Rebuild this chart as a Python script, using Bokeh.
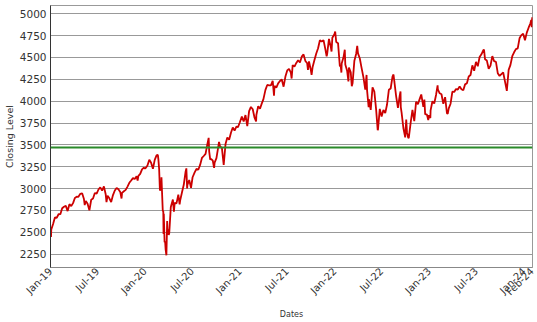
import math
import pandas as pd
from bokeh.plotting import figure
from bokeh.models import Range1d, FixedTicker, DatetimeTickFormatter, Span
from bokeh.embed import file_html
from bokeh.resources import INLINE

# ---- data (weekly closes) ----
d2019 = ["01-02","01-03","01-04","01-11","01-18","01-25","02-01","02-08","02-15","02-22",
         "03-01","03-08","03-15","03-22","03-29","04-05","04-12","04-18","04-26","05-03",
         "05-10","05-13","05-17","05-24","05-31","06-07","06-14","06-21","06-28","07-05",
         "07-12","07-19","07-26","08-02","08-05","08-09","08-16","08-23","08-30","09-06",
         "09-13","09-20","09-27","10-02","10-04","10-11","10-18","10-25","11-01","11-08",
         "11-15","11-22","11-29","12-03","12-06","12-13","12-20","12-27","12-31"]
c2019 = [2510,2448,2532,2596,2671,2665,2707,2708,2776,2793,
         2804,2743,2822,2801,2834,2893,2907,2905,2940,2946,
         2881,2812,2860,2826,2752,2873,2887,2950,2942,2990,
         3014,2977,3026,2932,2845,2919,2889,2847,2926,2979,
         3007,2992,2962,2887,2952,2970,2986,3023,3067,3093,
         3120,3110,3141,3093,3146,3169,3221,3240,3231]

d2020 = ["01-03","01-10","01-17","01-24","01-31","02-07","02-14","02-19","02-21","02-24",
         "02-27","03-03","03-04","03-06","03-09","03-11","03-12","03-13","03-16","03-18",
         "03-20","03-23","03-26","03-27","04-01","04-03","04-09","04-17","04-21","04-24",
         "05-01","05-08","05-13","05-15","05-22","05-29","06-05","06-08","06-11","06-12",
         "06-19","06-26","07-02","07-10","07-17","07-24","07-31","08-07","08-14","08-21",
         "08-28","09-02","09-04","09-08","09-11","09-18","09-23","09-25","10-02","10-09",
         "10-12","10-16","10-23","10-30","11-06","11-13","11-20","11-27","12-04","12-11",
         "12-18","12-24","12-31"]
c2020 = [3235,3265,3330,3295,3226,3328,3380,3386,3338,3226,
         2979,3003,3130,2972,2747,2741,2481,2711,2386,2398,
         2305,2237,2630,2541,2471,2489,2790,2875,2737,2837,
         2831,2930,2820,2864,2955,3044,3194,3232,3002,3041,
         3098,3009,3130,3185,3225,3216,3271,3351,3373,3397,
         3508,3580,3427,3332,3341,3319,3237,3298,3348,3477,
         3535,3483,3465,3270,3509,3585,3558,3638,3699,3663,
         3709,3703,3756]

d2021 = ["01-08","01-15","01-22","01-29","02-05","02-12","02-19","02-26","03-04","03-05",
         "03-12","03-19","03-26","04-01","04-09","04-16","04-23","04-30","05-07","05-12",
         "05-14","05-21","05-28","06-04","06-11","06-18","06-25","07-02","07-09","07-16",
         "07-19","07-23","07-30","08-06","08-13","08-20","08-27","09-03","09-10","09-17",
         "09-20","09-24","10-01","10-04","10-08","10-15","10-22","10-29","11-05","11-12",
         "11-19","11-26","12-01","12-03","12-10","12-17","12-20","12-23","12-31"]
c2021 = [3825,3768,3841,3714,3887,3934,3907,3811,3768,3842,
         3943,3913,3975,4020,4129,4185,4180,4181,4233,4063,
         4174,4156,4204,4230,4247,4166,4281,4352,4370,4327,
         4259,4412,4395,4437,4468,4442,4509,4535,4459,4433,
         4358,4455,4357,4300,4391,4471,4545,4605,4697,4683,
         4698,4595,4513,4538,4712,4620,4568,4726,4766]

d2022 = ["01-03","01-07","01-14","01-21","01-24","01-27","01-28","02-04","02-09","02-11",
         "02-18","02-23","02-25","03-04","03-08","03-11","03-18","03-25","03-29","04-01",
         "04-08","04-14","04-22","04-29","05-04","05-06","05-12","05-13","05-20","05-27",
         "06-03","06-10","06-16","06-17","06-24","07-01","07-08","07-15","07-22","07-29",
         "08-05","08-12","08-16","08-19","08-26","09-02","09-09","09-12","09-13","09-16",
         "09-23","09-30","10-04","10-07","10-12","10-14","10-21","10-28","11-04","11-11",
         "11-18","11-25","12-01","12-09","12-13","12-16","12-23","12-28","12-30"]
c2022 = [4797,4677,4663,4398,4410,4327,4432,4501,4588,4419,
         4349,4226,4385,4329,4171,4204,4463,4543,4632,4546,
         4488,4393,4272,4132,4300,4123,3930,4023,3901,4158,
         4109,3901,3667,3675,3912,3825,3899,3863,3962,4130,
         4145,4280,4305,4228,4058,3924,4067,4110,3932,3873,
         3693,3586,3791,3640,3577,3583,3753,3901,3771,3993,
         3965,4026,4077,3934,4019,3852,3845,3783,3840]

d2023 = ["01-05","01-06","01-13","01-20","01-27","02-02","02-03","02-10","02-17","02-24",
         "03-03","03-10","03-13","03-17","03-24","03-31","04-07","04-14","04-21","04-28",
         "05-05","05-12","05-19","05-26","06-02","06-09","06-16","06-23","06-30","07-07",
         "07-14","07-21","07-28","07-31","08-04","08-11","08-18","08-25","09-01","09-08",
         "09-15","09-22","09-29","10-06","10-13","10-20","10-27","11-03","11-10","11-17",
         "11-24","12-01","12-08","12-15","12-22","12-29"]
c2023 = [3808,3895,3999,3973,4071,4180,4136,4090,4079,3970,
         4046,3862,3855,3917,3971,4109,4105,4138,4133,4169,
         4136,4124,4192,4205,4282,4299,4410,4348,4450,4399,
         4505,4536,4582,4589,4478,4464,4370,4406,4516,4457,
         4450,4320,4288,4309,4328,4224,4117,4358,4415,4514,
         4559,4595,4604,4719,4755,4770]

d2024 = ["01-05","01-12","01-19","01-26","01-29","01-31","02-01","02-02"]
c2024 = [4697,4784,4840,4891,4928,4846,4906,4959]

reference_level = 3470

tick_labels = ["2019-01-01","2019-07-01","2020-01-01","2020-07-01","2021-01-01","2021-07-01",
               "2022-01-01","2022-07-01","2023-01-01","2023-07-01","2024-01-01","2024-02-01"]

# ---- build ----
dates, closes = [], []
for yr, ds, cs in [(2019, d2019, c2019), (2020, d2020, c2020), (2021, d2021, c2021),
                   (2022, d2022, c2022), (2023, d2023, c2023), (2024, d2024, c2024)]:
    dates += [f"{yr}-{d}" for d in ds]
    closes += cs
x = pd.to_datetime(dates)

def ms(s):
    return pd.Timestamp(s).value / 1e6

p = figure(width=537, height=322, x_axis_type="datetime", output_backend="svg",
           toolbar_location=None,
           x_range=Range1d(ms("2019-01-01"), ms("2024-02-03")),
           y_range=Range1d(2098, 5094))
p.min_border_left = 49
p.min_border_right = 5
p.min_border_top = 5
p.min_border_bottom = 53
p.background_fill_color = "white"
p.border_fill_color = "white"
p.outline_line_color = "#999999"

p.line(x, closes, line_color="#cc0000", line_width=1.8)
p.add_layout(Span(location=reference_level, dimension="width",
                  line_color="#2a8a2a", line_width=2))

p.xgrid.visible = False
p.ygrid.grid_line_color = "#999999"
p.ygrid.grid_line_width = 1

p.yaxis.ticker = FixedTicker(ticks=list(range(2250, 5001, 250)))
p.xaxis.ticker = FixedTicker(ticks=[ms(t) for t in tick_labels])
fmt = "%b-%y"
p.xaxis.formatter = DatetimeTickFormatter(
    microseconds=fmt, milliseconds=fmt, seconds=fmt, minsec=fmt, minutes=fmt,
    hourmin=fmt, hours=fmt, days=fmt, months=fmt, years=fmt)
p.xaxis.major_label_orientation = math.pi / 4

for ax in (p.xaxis[0], p.yaxis[0]):
    ax.major_tick_out = 0
    ax.major_tick_in = 0
    ax.minor_tick_out = 0
    ax.minor_tick_in = 0
    ax.major_label_text_font = "DejaVu Sans"
    ax.major_label_text_color = "#333333"
    ax.axis_label_text_font = "DejaVu Sans"
    ax.axis_label_text_font_style = "normal"
    ax.axis_label_text_color = "#333333"

p.yaxis.axis_line_color = "#333333"
p.xaxis.axis_line_color = "#888888"
p.yaxis.major_label_text_font_size = "10.5px"
p.xaxis.major_label_text_font_size = "10px"
p.yaxis.major_label_standoff = 4
p.xaxis.major_label_standoff = 2
p.yaxis.axis_label = "Closing Level"
p.xaxis.axis_label = "Dates"
p.yaxis.axis_label_text_font_size = "9.5px"
p.xaxis.axis_label_text_font_size = "8px"
p.yaxis.axis_label_standoff = 2
p.xaxis.axis_label_standoff = 6

open("out.html", "w").write(file_html(p, INLINE))
